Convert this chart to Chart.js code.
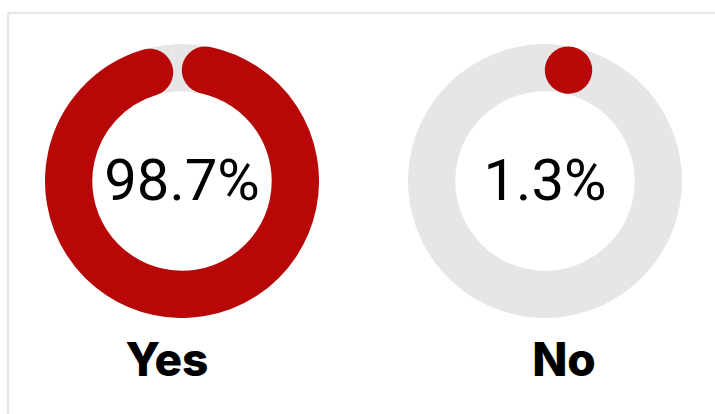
<!DOCTYPE html>
<html>
<head>
<meta charset="utf-8">
<script src="https://cdn.jsdelivr.net/npm/chart.js@4"></script>
<style>
  html, body { margin: 0; padding: 0; background: #fff; overflow: hidden; }
  body { width: 715px; height: 414px; position: relative; }
  .frame {
    position: absolute; left: 7px; top: 12px; width: 800px; height: 500px;
    border: 2px solid #e6e6e6; box-sizing: border-box;
  }
  .donut { position: absolute; top: 44px; width: 274px; height: 274px; }
  .donut canvas { position: absolute; left: 0; top: 0; }
  .pct {
    position: absolute; left: 0; width: 274px; top: 107px; text-align: center;
    font-family: Roboto, sans-serif; font-weight: 400; font-size: 58px; line-height: 58px; color: #000;
  }
  .label {
    position: absolute; top: 336px; width: 200px; text-align: center;
    font-family: Inter, sans-serif; font-weight: 800; font-size: 46px; line-height: 46px; color: #000;
  }
</style>
</head>
<body>
<div class="frame"></div>
<div class="donut" id="d0" style="left:45px"><canvas id="c0" width="274" height="274"></canvas><div class="pct" id="p0"></div></div>
<div class="donut" id="d1" style="left:408px"><canvas id="c1" width="274" height="274"></canvas><div class="pct" id="p1"></div></div>
<div class="label" id="l0" style="left:67px"></div>
<div class="label" id="l1" style="left:464px"></div>

<script>
const answers = ["Yes", "No"];
const shares = [98.7, 1.3];

const red = "#b80707";
const track = "#e6e6e6";

// red arc with round caps, drawn on top of the first slice's geometry
const roundCaps = {
  id: "roundCaps",
  afterDatasetsDraw(chart) {
    const arc = chart.getDatasetMeta(0).data[0];
    const p = arc.getProps(["x", "y", "startAngle", "endAngle", "innerRadius", "outerRadius"], true);
    const width = p.outerRadius - p.innerRadius;
    const r = (p.outerRadius + p.innerRadius) / 2;
    const cap = (width / 2) / r;
    const s = p.startAngle + cap;
    const e = Math.max(s + 0.001, p.endAngle - cap);
    const ctx = chart.ctx;
    ctx.save();
    ctx.beginPath();
    ctx.arc(p.x, p.y, r, s, e);
    ctx.lineWidth = width;
    ctx.lineCap = "round";
    ctx.strokeStyle = red;
    ctx.stroke();
    ctx.restore();
  }
};

answers.forEach(function(name, i) {
  const ctx = document.getElementById("c" + i).getContext("2d");
  new Chart(ctx, {
    type: "doughnut",
    data: {
      labels: [name, "Other"],
      datasets: [{
        data: [shares[i], 100 - shares[i]],
        backgroundColor: [track, track],
        borderWidth: 0
      }]
    },
    options: {
      responsive: false,
      animation: false,
      events: [],
      cutout: "65.5%",
      layout: { padding: 0 },
      plugins: { legend: { display: false }, tooltip: { enabled: false } }
    },
    plugins: [roundCaps]
  });
  document.getElementById("p" + i).textContent = shares[i] + "%";
  document.getElementById("l" + i).textContent = name;
});
</script>
</body>
</html>
